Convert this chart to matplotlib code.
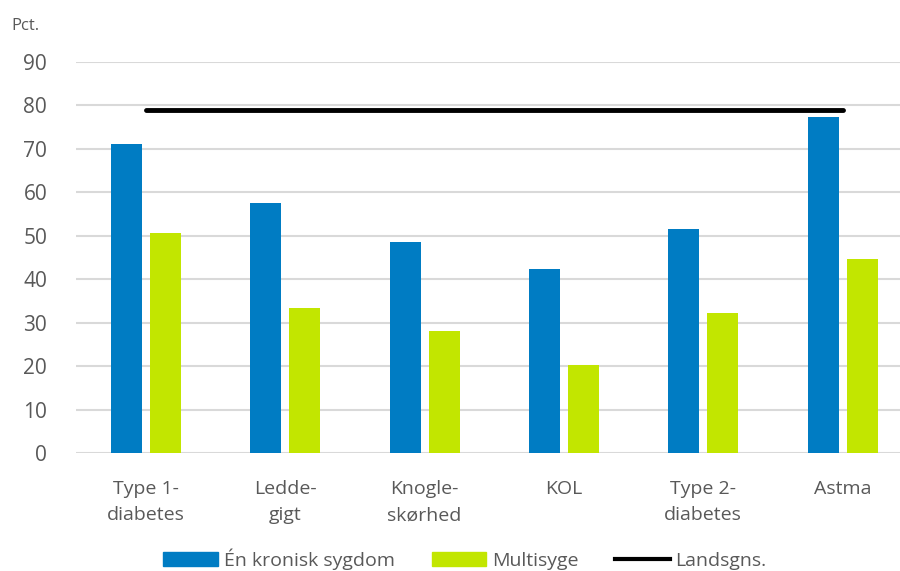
import numpy as np
import matplotlib.pyplot as plt
from matplotlib.lines import Line2D
from matplotlib.patches import Patch

plt.rcParams['font.family'] = ['Open Sans', 'DejaVu Sans']

#data
sygdomme = ['Type 1-\ndiabetes', 'Ledde-\ngigt', 'Knogle-\nskørhed', 'KOL', 'Type 2-\ndiabetes', 'Astma']
en_kronisk = [71.2, 57.6, 48.6, 42.3, 51.6, 77.4]
multisyge = [50.6, 33.4, 28.1, 20.2, 32.2, 44.7]
landsgns = [79.0, 79.0, 79.0, 79.0, 79.0, 79.0]

BLUE = '#007CC3'
GREEN = '#C2E600'
GREY = '#595959'

fig = plt.figure(figsize=(9, 5.71), dpi=100)
ax = fig.add_axes([76.3/900, 1-453.3/571, 836/900, (453.3-62)/571])

x = np.arange(len(sygdomme))
w = 0.222
ax.bar(x - 0.14, en_kronisk, w, color=BLUE, zorder=3)
ax.bar(x + 0.14, multisyge, w, color=GREEN, zorder=3)
ax.plot(x, landsgns, color='black', linewidth=3.5, solid_capstyle='round', zorder=4)

ax.set_xlim(-0.5, len(sygdomme) - 0.5)
ax.set_ylim(0, 90)
ax.set_yticks(range(0, 91, 10))
ax.set_xticks(x)
ax.set_xticklabels(sygdomme, fontsize=14, color=GREY, linespacing=1.6, va='top')
ax.tick_params(axis='y', labelsize=15, colors=GREY, length=0, pad=21)
ax.tick_params(axis='x', length=0, pad=19)
ax.grid(axis='y', color='#D9D9D9', linewidth=1.5, zorder=0)
for s in ax.spines.values():
    s.set_visible(False)

fig.text(11/900, 1-26/571, 'Pct.', fontsize=12, color=GREY, va='center')

handles = [Patch(color=BLUE), Patch(color=GREEN), Line2D([], [], color='black', linewidth=3)]
fig.legend(handles, ['Én kronisk sygdom', 'Multisyge', 'Landsgns.'], loc='center',
           bbox_to_anchor=(465/900, 1-559/571), ncol=3, frameon=False, fontsize=14,
           labelcolor=GREY, handlelength=2.8, handleheight=0.75, handletextpad=0.3,
           columnspacing=1.9)

fig.savefig('out.png', dpi=100)
